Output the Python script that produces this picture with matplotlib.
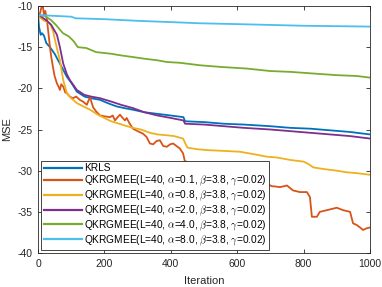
import matplotlib
matplotlib.use("Agg")
import matplotlib.pyplot as plt

plt.rcParams['font.family'] = ['Liberation Sans', 'DejaVu Sans']
plt.rcParams['mathtext.fontset'] = 'cm'

# ---------------- data ----------------
krls_x = [0, 3, 8, 12, 18, 25, 36, 50, 66, 87, 100, 117, 140, 160, 187, 210, 237, 260, 286,
          320, 360, 400, 438, 443, 500, 560, 620, 700, 760, 820, 880, 940, 1000]
krls_y = [-11.0, -12.5, -13.5, -13.3, -13.6, -14.5, -15.0, -15.8, -17.0, -18.6, -19.3, -20.4,
          -21.0, -21.2, -21.4, -21.8, -22.2, -22.4, -22.6, -22.9, -23.1, -23.3, -23.5, -24.0,
          -24.1, -24.3, -24.4, -24.6, -24.8, -24.9, -25.1, -25.3, -25.6]

a01_x = [0, 6, 10, 15, 18, 22, 27, 32, 36, 40, 45, 50, 57, 62, 66, 70, 76, 82, 87, 96, 105,
         115, 126, 135, 147, 152, 157, 162, 166, 175, 187, 200, 217, 225, 232, 240, 247, 255,
         262, 267, 275, 286, 300, 316, 327, 337, 347, 357, 367, 377, 388, 398, 407, 417, 427,
         437, 442, 460, 500, 560, 620, 680, 705, 710, 729, 750, 768, 789, 810, 819, 825, 840,
         849, 870, 900, 919, 940, 949, 960, 970, 979, 990, 1000]
a01_y = [-11.0, -10.9, -10.2, -10.1, -11.1, -10.6, -11.7, -13.5, -15.0, -16.2, -17.4, -18.5,
         -19.4, -19.8, -20.2, -19.5, -19.8, -20.5, -20.6, -21.0, -21.2, -21.0, -21.4, -21.6,
         -22.0, -21.5, -21.1, -21.8, -22.3, -22.8, -23.3, -23.4, -23.5, -23.3, -23.9, -23.5,
         -23.2, -23.6, -23.9, -23.6, -24.2, -24.9, -25.2, -25.5, -25.9, -26.7, -26.8, -26.4,
         -26.3, -27.0, -27.1, -26.8, -26.7, -27.0, -27.3, -27.9, -28.8, -29.2, -29.6, -30.2,
         -30.8, -31.4, -31.9, -31.9, -32.0, -31.8, -32.4, -32.6, -32.6, -33.2, -35.6, -35.6,
         -35.0, -34.8, -34.5, -34.8, -35.0, -36.4, -36.6, -36.9, -37.2, -37.0, -36.9]

a08_x = [0, 10, 15, 25, 36, 45, 51, 58, 66, 76, 87, 100, 117, 137, 157, 180, 200, 220, 237,
         260, 286, 310, 337, 360, 388, 410, 437, 445, 450, 480, 509, 560, 608, 650, 689, 720,
         760, 800, 815, 829, 860, 900, 930, 960, 1000]
a08_y = [-11.3, -11.5, -11.7, -11.9, -12.1, -13.0, -14.1, -15.3, -16.6, -19.0, -20.6, -21.2,
         -21.8, -22.2, -22.6, -23.2, -23.6, -24.0, -24.2, -24.5, -24.8, -25.0, -25.4, -25.6,
         -25.7, -25.8, -26.1, -26.8, -27.2, -27.4, -27.5, -27.6, -27.7, -28.0, -28.3, -28.4,
         -28.7, -28.9, -29.2, -29.6, -29.8, -30.0, -30.2, -30.3, -30.5]

a20_x = [0, 10, 20, 27, 40, 57, 66, 76, 87, 96, 117, 140, 160, 187, 220, 250, 286, 320, 360,
         400, 438, 443, 500, 560, 620, 700, 760, 820, 880, 940, 1000]
a20_y = [-11.0, -11.3, -11.6, -11.8, -12.3, -13.5, -15.0, -17.0, -18.3, -19.0, -20.2, -20.8,
         -21.0, -21.2, -21.6, -22.0, -22.4, -22.9, -23.3, -23.6, -23.9, -24.3, -24.4, -24.6,
         -24.8, -25.0, -25.2, -25.4, -25.6, -25.8, -26.1]

a40_x = [0, 20, 39, 54, 75, 93, 108, 120, 145, 175, 220, 250, 286, 320, 360, 388, 428, 488,
         550, 629, 700, 760, 829, 900, 960, 1000]
a40_y = [-11.1, -11.2, -11.7, -12.3, -13.3, -13.7, -14.3, -15.0, -15.1, -15.6, -15.8, -16.0,
         -16.2, -16.4, -16.6, -16.8, -16.9, -17.2, -17.4, -17.6, -17.9, -18.0, -18.2, -18.4,
         -18.5, -18.7]

a80_x = [0, 50, 100, 114, 120, 200, 300, 428, 488, 600, 700, 800, 900, 1000]
a80_y = [-11.1, -11.2, -11.3, -11.5, -11.5, -11.6, -11.8, -12.0, -12.1, -12.2, -12.3, -12.4,
         -12.45, -12.5]

labels = ['KRLS',
          r'QKRGMEE(L=40, $\alpha$=0.1, $\beta$=3.8, $\gamma$=0.02)',
          r'QKRGMEE(L=40, $\alpha$=0.8, $\beta$=3.8, $\gamma$=0.02)',
          r'QKRGMEE(L=40, $\alpha$=2.0, $\beta$=3.8, $\gamma$=0.02)',
          r'QKRGMEE(L=40, $\alpha$=4.0, $\beta$=3.8, $\gamma$=0.02)',
          r'QKRGMEE(L=40, $\alpha$=8.0, $\beta$=3.8, $\gamma$=0.02)']
colors = ['#0072BD', '#D95319', '#EDB120', '#7E2F8E', '#77AC30', '#4DBEEE']

xticks = [0, 200, 400, 600, 800, 1000]
yticks = [-40, -35, -30, -25, -20, -15, -10]

# ---------------- figure ----------------
fig = plt.figure(figsize=(3.82, 2.87), dpi=100)
ax = fig.add_axes([38 / 382, 1 - 253 / 287, 332 / 382, 247 / 287])

series = [(krls_x, krls_y), (a01_x, a01_y), (a08_x, a08_y),
          (a20_x, a20_y), (a40_x, a40_y), (a80_x, a80_y)]
for (xs, ys), c, lab in zip(series, colors, labels):
    ax.plot(xs, ys, color=c, lw=1.3, label=lab)

ax.set_xlim(0, 1000)
ax.set_ylim(-40, -10)
ax.set_xticks(xticks)
ax.set_yticks(yticks)
ax.set_yticklabels([str(t) for t in yticks])
ax.tick_params(direction='in', top=True, right=True, length=3, width=0.6,
               labelsize=7.5, colors='#262626', pad=4)
for s in ax.spines.values():
    s.set_color('#262626')
    s.set_linewidth(0.6)

ax.set_xlabel('Iteration', fontsize=8, color='#262626', labelpad=5)
ax.set_ylabel('MSE', fontsize=8, color='#262626', labelpad=4)

leg = ax.legend(loc='lower left', bbox_to_anchor=(0.009, 0.012), fontsize=7.3,
                fancybox=False, framealpha=1, edgecolor='#262626',
                handlelength=3.8, handletextpad=0.2, borderpad=0.25,
                labelspacing=0.05, borderaxespad=0)
leg.get_frame().set_linewidth(0.6)
for ln in leg.get_lines():
    ln.set_linewidth(1.6)

fig.savefig('out.png', dpi=100)
